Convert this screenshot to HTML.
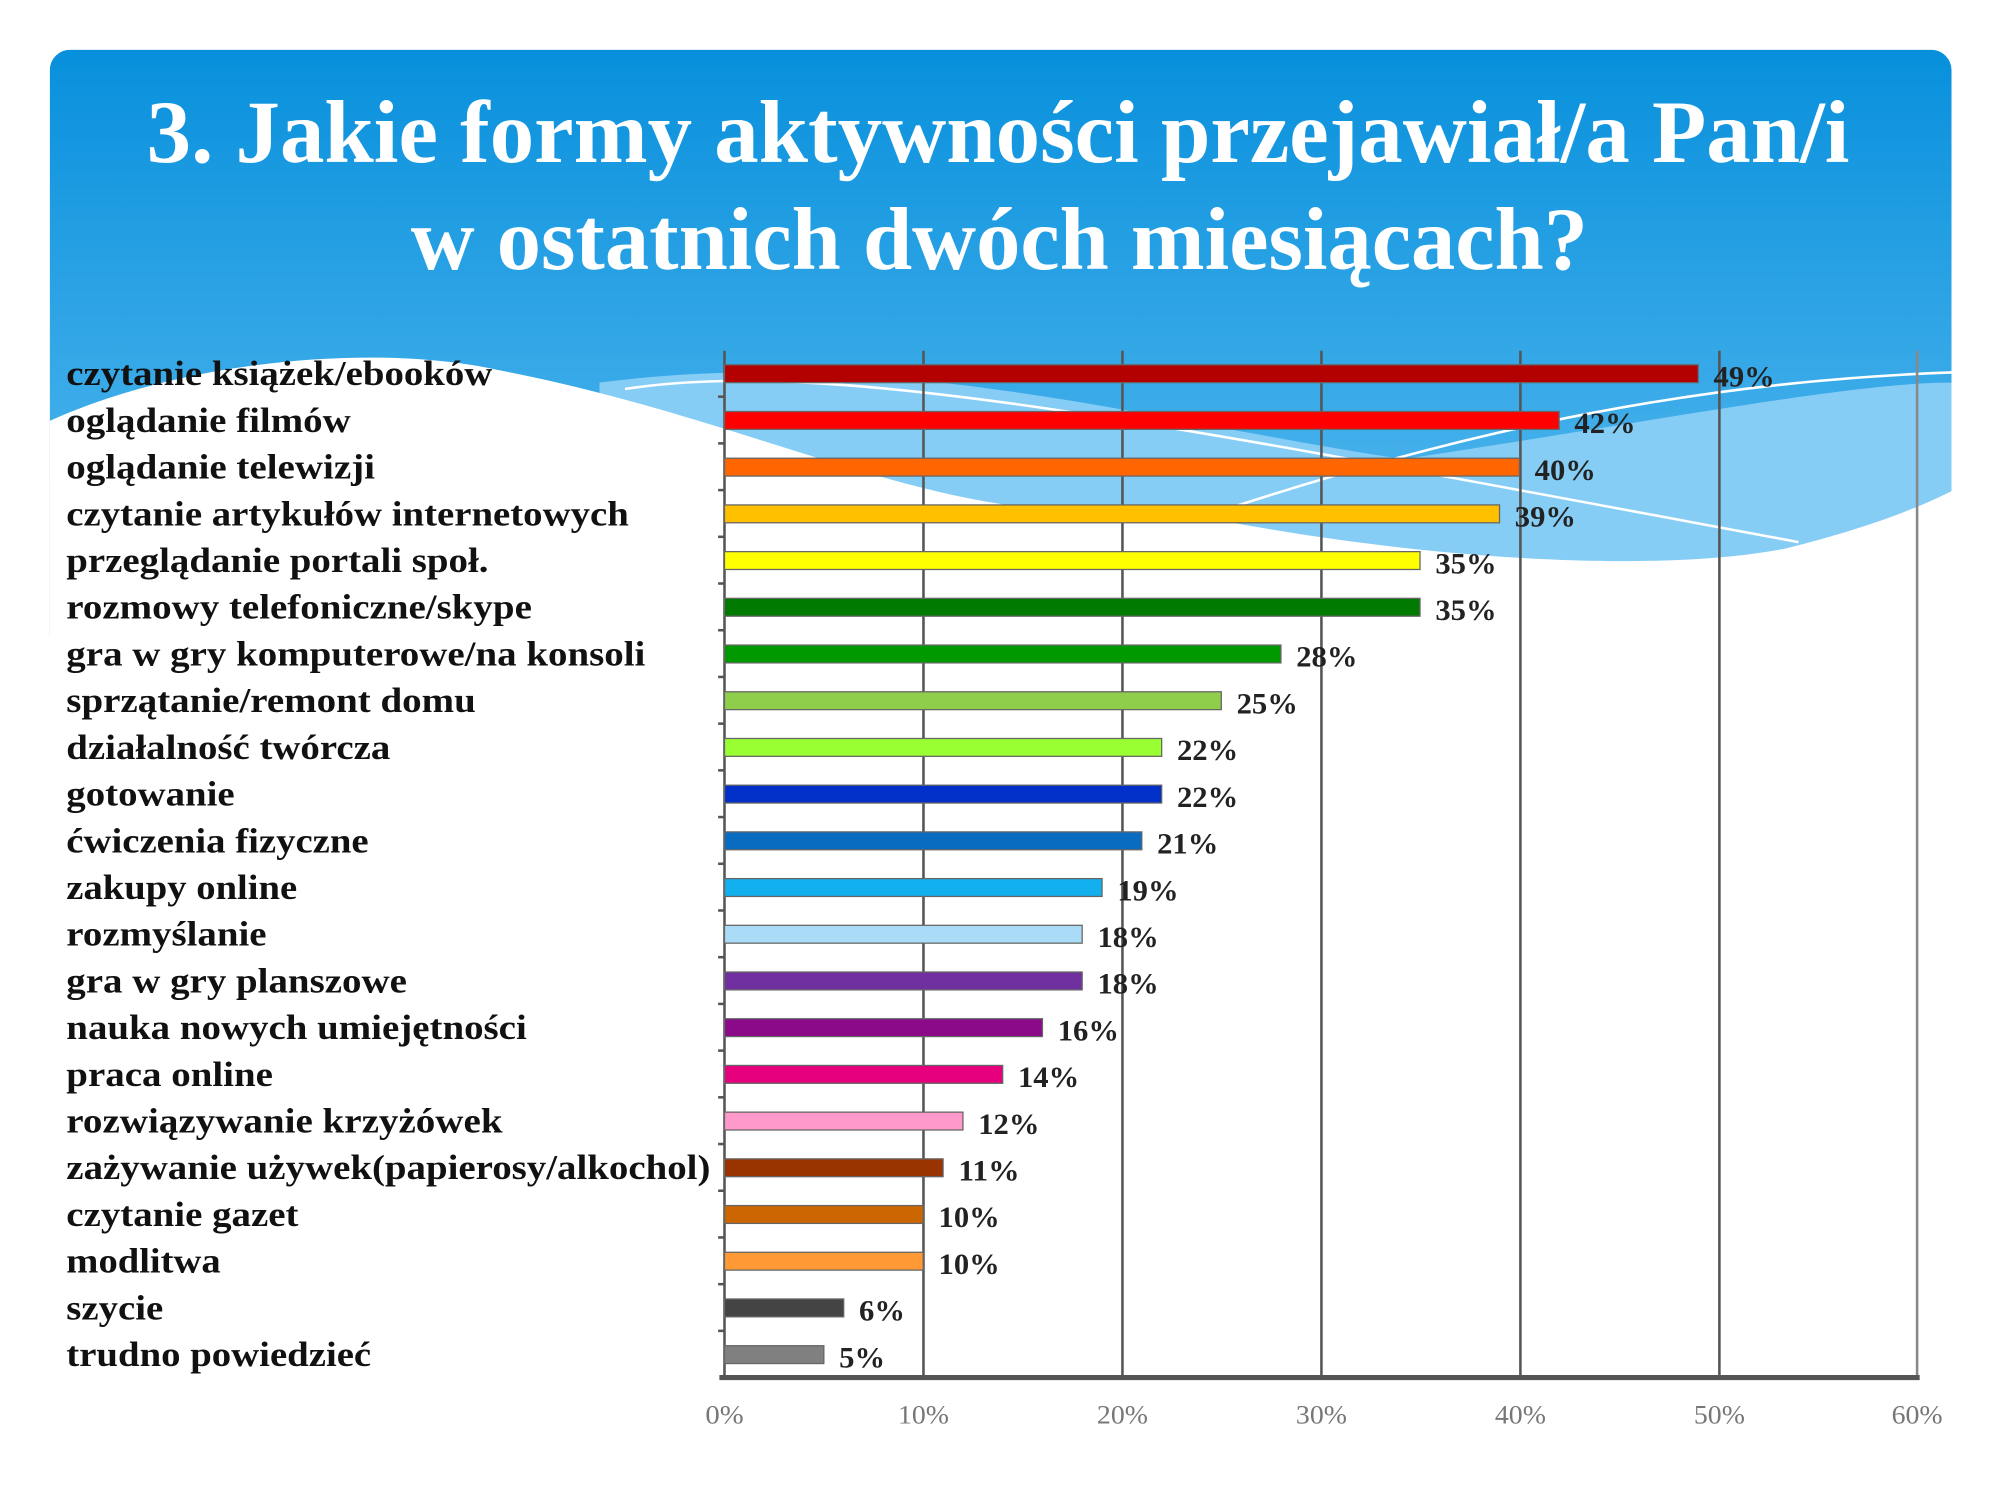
<!DOCTYPE html>
<html><head><meta charset="utf-8"><style>html,body{margin:0;padding:0;background:#fff}svg{display:block}</style></head>
<body>
<svg width="2000" height="1500" viewBox="0 0 1568 1176" preserveAspectRatio="none" xmlns="http://www.w3.org/2000/svg">
<defs>
<linearGradient id="bg" x1="0" y1="0" x2="0" y2="1">
<stop offset="0" stop-color="#0890dc"/><stop offset="1" stop-color="#5dbdf1"/>
</linearGradient>
<clipPath id="card"><rect x="39" y="39" width="1491" height="1137" rx="16"/></clipPath>
</defs>
<g clip-path="url(#card)">
<rect x="39" y="39" width="1491" height="460" fill="url(#bg)"/>
<path d="M470,300 C700,270 900,330 1100,360 C1300,330 1450,300 1530,300 L1530,520 L470,520 Z" fill="#86cdf6"/>
<path d="M39,330 C150,280 300,270 390,290 C600,330 750,420 902,397 C1100,440 1300,450 1400,430 C1460,415 1500,400 1530,385 L1530,1176 L39,1176 Z" fill="#fff"/>
<path d="M490,305 C650,280 900,330 1410,425" stroke="#fff" stroke-width="2" fill="none"/>
<path d="M900,420 C1100,350 1300,300 1530,292" stroke="#fff" stroke-width="2" fill="none"/>
</g>
<g font-family="Liberation Serif, serif" font-weight="bold" fill="#fff" text-anchor="start">
<text x="115" y="127" font-size="70" textLength="1335" lengthAdjust="spacingAndGlyphs">3. Jakie formy aktywności przejawiał/a Pan/i</text>
<text x="322" y="211" font-size="70" textLength="923" lengthAdjust="spacingAndGlyphs">w ostatnich dwóch miesiącach?</text>
</g>
<g stroke="#555" stroke-width="2">
<line x1="724" y1="275" x2="724" y2="1080"/><line x1="880" y1="275" x2="880" y2="1080"/>
<line x1="1036" y1="275" x2="1036" y2="1080"/><line x1="1192" y1="275" x2="1192" y2="1080"/>
<line x1="1348" y1="275" x2="1348" y2="1080"/><line x1="1503" y1="275" x2="1503" y2="1080" stroke="#888"/>
<line x1="568" y1="275" x2="568" y2="1080"/>
</g>
<line x1="564" y1="1080" x2="1505" y2="1080" stroke="#555" stroke-width="4"/>
<g font-family="Liberation Serif, serif" font-size="21" fill="#777" text-anchor="middle">
<text x="568" y="1116" textLength="30" lengthAdjust="spacingAndGlyphs">0%</text><text x="724" y="1116" textLength="40" lengthAdjust="spacingAndGlyphs">10%</text><text x="880" y="1116" textLength="40" lengthAdjust="spacingAndGlyphs">20%</text>
<text x="1036" y="1116" textLength="40" lengthAdjust="spacingAndGlyphs">30%</text><text x="1192" y="1116" textLength="40" lengthAdjust="spacingAndGlyphs">40%</text><text x="1348" y="1116" textLength="40" lengthAdjust="spacingAndGlyphs">50%</text><text x="1503" y="1116" textLength="40" lengthAdjust="spacingAndGlyphs">60%</text>
</g>
<g id="bars" stroke="#666" stroke-width="1"></g>
<g id="labs" font-family="Liberation Serif, serif" font-weight="bold" font-size="27" fill="#111"></g>
<g id="vals" font-family="Liberation Serif, serif" font-weight="bold" font-size="23" fill="#222"></g>
<script>
var d=[["czytanie książek/ebooków",49,"#b30000",386],["oglądanie filmów",42,"#ff0000",275],["oglądanie telewizji",40,"#ff6600",294],["czytanie artykułów internetowych",39,"#ffc000",493],["przeglądanie portali społ.",35,"#ffff00",383],["rozmowy telefoniczne/skype",35,"#007a00",417],["gra w gry komputerowe/na konsoli",28,"#009900",506],["sprzątanie/remont domu",25,"#8fce4a",373],["działalność twórcza",22,"#99ff33",306],["gotowanie",22,"#0030c8",184],["ćwiczenia fizyczne",21,"#0a6cc0",289],["zakupy online",19,"#12b0ef",233],["rozmyślanie",18,"#aadcf8",209],["gra w gry planszowe",18,"#7030a0",319],["nauka nowych umiejętności",16,"#8a0a8a",413],["praca online",14,"#e6007e",214],["rozwiązywanie krzyżówek",12,"#ff99cc",394],["zażywanie używek(papierosy/alkochol)",11,"#993300",557],["czytanie gazet",10,"#cc6600",234],["modlitwa",10,"#ff9933",173],["szycie",6,"#444444",128],["trudno powiedzieć",5,"#808080",291]];
var ns="http://www.w3.org/2000/svg",B=document.getElementById("bars"),L=document.getElementById("labs"),V=document.getElementById("vals");
function el(t,a,p,tx){var e=document.createElementNS(ns,t);for(var k in a)e.setAttribute(k,a[k]);if(tx)e.textContent=tx;p.appendChild(e);return e;}
d.forEach(function(r,i){var y=293+i*36.62,w=r[1]*15.58;
el("rect",{x:568,y:y-7,width:w,height:14,fill:r[2]},B);
if(i<21)el("line",{x1:563,y1:y+18,x2:568,y2:y+18,stroke:"#555","stroke-width":2},B);
el("text",{x:52,y:y+9,textLength:r[3]-52,lengthAdjust:"spacingAndGlyphs"},L,r[0]);
el("text",{x:568+w+12,y:y+10,textLength:(r[1]<10?36:48),lengthAdjust:"spacingAndGlyphs"},V,r[1]+"%");});
</script>
</svg>
</body></html>
